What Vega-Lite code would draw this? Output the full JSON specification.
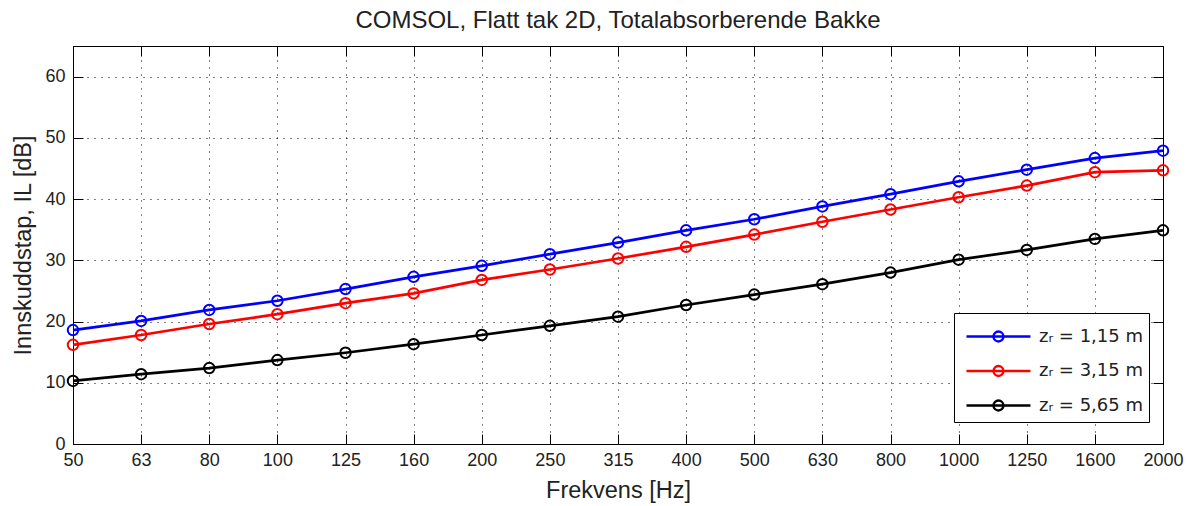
{
  "$schema": "https://vega.github.io/schema/vega-lite/v6.json",
  "width": 1090,
  "height": 398,
  "autosize": "none",
  "padding": {"left": 73, "top": 46, "right": 28, "bottom": 62},
  "background": "white",
  "title": {
    "text": "COMSOL, Flatt tak 2D, Totalabsorberende Bakke",
    "fontSize": 24,
    "fontWeight": "normal",
    "font": "Liberation Sans",
    "color": "#222222",
    "offset": 13
  },
  "config": {
    "font": "Liberation Sans",
    "view": {"stroke": "black", "strokeWidth": 1},
    "axis": {
      "labelFont": "Liberation Sans",
      "labelFontSize": 18,
      "labelColor": "#222222",
      "titleFont": "Liberation Sans",
      "titleFontSize": 23.5,
      "titleFontWeight": "normal",
      "titleColor": "#222222",
      "domainColor": "black",
      "domainWidth": 1,
      "tickColor": "black",
      "tickWidth": 1,
      "gridColor": "black",
      "gridOpacity": 1,
      "gridWidth": 1,
      "gridDash": [1, 6]
    }
  },
  "data": {
    "values": [
      {"f": "50", "serie": "zᵣ = 1,15 m", "il": 18.6},
      {"f": "63", "serie": "zᵣ = 1,15 m", "il": 20.1},
      {"f": "80", "serie": "zᵣ = 1,15 m", "il": 21.9},
      {"f": "100", "serie": "zᵣ = 1,15 m", "il": 23.4},
      {"f": "125", "serie": "zᵣ = 1,15 m", "il": 25.3},
      {"f": "160", "serie": "zᵣ = 1,15 m", "il": 27.3},
      {"f": "200", "serie": "zᵣ = 1,15 m", "il": 29.1},
      {"f": "250", "serie": "zᵣ = 1,15 m", "il": 31.0},
      {"f": "315", "serie": "zᵣ = 1,15 m", "il": 32.9},
      {"f": "400", "serie": "zᵣ = 1,15 m", "il": 34.9},
      {"f": "500", "serie": "zᵣ = 1,15 m", "il": 36.7},
      {"f": "630", "serie": "zᵣ = 1,15 m", "il": 38.8},
      {"f": "800", "serie": "zᵣ = 1,15 m", "il": 40.8},
      {"f": "1000", "serie": "zᵣ = 1,15 m", "il": 42.9},
      {"f": "1250", "serie": "zᵣ = 1,15 m", "il": 44.8},
      {"f": "1600", "serie": "zᵣ = 1,15 m", "il": 46.7},
      {"f": "2000", "serie": "zᵣ = 1,15 m", "il": 47.9},
      {"f": "50", "serie": "zᵣ = 3,15 m", "il": 16.2},
      {"f": "63", "serie": "zᵣ = 3,15 m", "il": 17.8},
      {"f": "80", "serie": "zᵣ = 3,15 m", "il": 19.6},
      {"f": "100", "serie": "zᵣ = 3,15 m", "il": 21.2},
      {"f": "125", "serie": "zᵣ = 3,15 m", "il": 23.0},
      {"f": "160", "serie": "zᵣ = 3,15 m", "il": 24.6},
      {"f": "200", "serie": "zᵣ = 3,15 m", "il": 26.8},
      {"f": "250", "serie": "zᵣ = 3,15 m", "il": 28.5},
      {"f": "315", "serie": "zᵣ = 3,15 m", "il": 30.3},
      {"f": "400", "serie": "zᵣ = 3,15 m", "il": 32.2},
      {"f": "500", "serie": "zᵣ = 3,15 m", "il": 34.2},
      {"f": "630", "serie": "zᵣ = 3,15 m", "il": 36.3},
      {"f": "800", "serie": "zᵣ = 3,15 m", "il": 38.3},
      {"f": "1000", "serie": "zᵣ = 3,15 m", "il": 40.3},
      {"f": "1250", "serie": "zᵣ = 3,15 m", "il": 42.2},
      {"f": "1600", "serie": "zᵣ = 3,15 m", "il": 44.4},
      {"f": "2000", "serie": "zᵣ = 3,15 m", "il": 44.7},
      {"f": "50", "serie": "zᵣ = 5,65 m", "il": 10.3},
      {"f": "63", "serie": "zᵣ = 5,65 m", "il": 11.4},
      {"f": "80", "serie": "zᵣ = 5,65 m", "il": 12.4},
      {"f": "100", "serie": "zᵣ = 5,65 m", "il": 13.7},
      {"f": "125", "serie": "zᵣ = 5,65 m", "il": 14.9},
      {"f": "160", "serie": "zᵣ = 5,65 m", "il": 16.3},
      {"f": "200", "serie": "zᵣ = 5,65 m", "il": 17.8},
      {"f": "250", "serie": "zᵣ = 5,65 m", "il": 19.3},
      {"f": "315", "serie": "zᵣ = 5,65 m", "il": 20.8},
      {"f": "400", "serie": "zᵣ = 5,65 m", "il": 22.7},
      {"f": "500", "serie": "zᵣ = 5,65 m", "il": 24.4},
      {"f": "630", "serie": "zᵣ = 5,65 m", "il": 26.1},
      {"f": "800", "serie": "zᵣ = 5,65 m", "il": 28.0},
      {"f": "1000", "serie": "zᵣ = 5,65 m", "il": 30.1},
      {"f": "1250", "serie": "zᵣ = 5,65 m", "il": 31.7},
      {"f": "1600", "serie": "zᵣ = 5,65 m", "il": 33.5},
      {"f": "2000", "serie": "zᵣ = 5,65 m", "il": 34.9}
    ]
  },
  "layer": [
    {
      "mark": {
        "type": "line",
        "strokeWidth": 2.7,
        "point": {"filled": false, "size": 110, "strokeWidth": 2}
      },
      "encoding": {
        "x": {
          "field": "f",
          "type": "ordinal",
          "sort": ["50", "63", "80", "100", "125", "160", "200", "250", "315", "400", "500", "630", "800", "1000", "1250", "1600", "2000"],
          "scale": {"type": "point", "padding": 0},
          "axis": {
            "orient": "bottom",
            "title": "Frekvens [Hz]",
            "labelAngle": 0,
            "grid": true,
            "tickSize": -10,
            "labelPadding": 17,
            "titlePadding": 9
          }
        },
        "y": {
          "field": "il",
          "type": "quantitative",
          "scale": {"domain": [0, 65], "nice": false, "zero": true},
          "axis": {
            "orient": "left",
            "title": "Innskuddstap, IL [dB]",
            "values": [0, 10, 20, 30, 40, 50, 60],
            "grid": true,
            "tickSize": -10,
            "labelPadding": 18,
            "titlePadding": 9
          }
        },
        "color": {
          "field": "serie",
          "type": "nominal",
          "scale": {"range": ["#0000ff", "#ff0000", "#000000"]},
          "legend": {
            "title": null,
            "orient": "none",
            "legendX": 881,
            "legendY": 267,
            "direction": "vertical",
            "strokeColor": "black",
            "fillColor": "white",
            "padding": 6,
            "cornerRadius": 0,
            "rowPadding": 6.5,
            "symbolType": "M-0.69,0H3.31M1.62,0A0.31,0.31 0 1,1 1,0A0.31,0.31 0 1,1 1.62,0",
            "symbolSize": 1024,
            "symbolStrokeWidth": 2.4,
            "symbolFillColor": "transparent",
            "labelOffset": 44,
            "labelFontSize": 18,
            "labelFont": "DejaVu Sans",
            "labelColor": "#222222",
            "labelLimit": 200
          }
        }
      }
    },
    {
      "mark": {"type": "line", "opacity": 0},
      "encoding": {
        "x": {
          "field": "f",
          "type": "ordinal",
          "sort": ["50", "63", "80", "100", "125", "160", "200", "250", "315", "400", "500", "630", "800", "1000", "1250", "1600", "2000"],
          "axis": {
            "orient": "top",
            "title": null,
            "labels": false,
            "grid": false,
            "domain": false,
            "tickSize": -10
          }
        },
        "y": {
          "field": "il",
          "type": "quantitative",
          "axis": {
            "orient": "right",
            "title": null,
            "labels": false,
            "grid": false,
            "domain": false,
            "values": [0, 10, 20, 30, 40, 50, 60],
            "tickSize": -10
          }
        },
        "detail": {"field": "serie"}
      }
    }
  ],
  "resolve": {"axis": {"x": "independent", "y": "independent"}}
}
